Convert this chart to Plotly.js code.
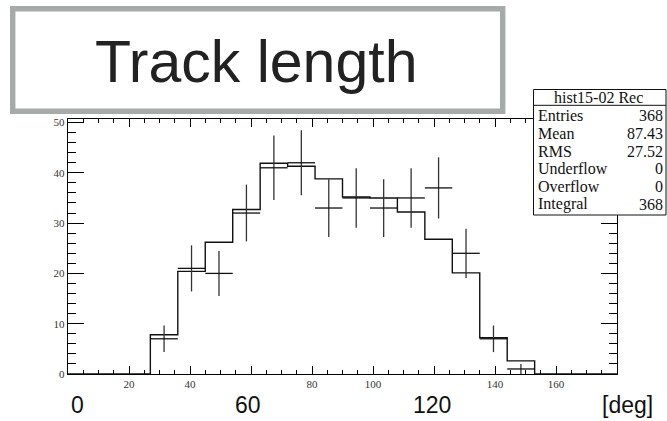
<!DOCTYPE html>
<html>
<head>
<meta charset="utf-8">
<script src="https://cdn.plot.ly/plotly-3.0.1.min.js"></script>
<style>
  html, body { margin: 0; padding: 0; background: #ffffff; }
  #plot { width: 667px; height: 421px; }
</style>
</head>
<body>
<div id="plot"></div>
<script>
// Histogram binning: 20 bins of 9 deg from 0 to 180
const binEdges = [0, 9, 18, 27, 36, 45, 54, 63, 72, 81, 90, 99, 108, 117, 126, 135, 144, 153, 162, 171, 180];

// Reconstructed counts (normalised, drawn as a step line)
const recCounts = [0, 0, 0, 7.8, 20.4, 26.2, 32.7, 41.9, 41.3, 38.8, 35.2, 35.0, 32.2, 26.8, 20.1, 7.2, 2.6, 0, 0, 0];

// Observed entries per bin (drawn as crosses with Poisson errors)
const dataCounts = [0, 0, 0, 7, 21, 20, 32, 41, 42, 33, 35, 33, 35, 37, 24, 7, 1, 0, 0, 0];

// Axis ticks
const xTickVals = [0, 20, 40, 60, 80, 100, 120, 140, 160, 180];
const xTickText = ["", "20", "40", "", "80", "100", "", "140", "160", ""];
const yTickVals = [0, 10, 20, 30, 40, 50];
const yTickText = ["0", "10", "20", "30", "40", "50"];

// Large axis captions underneath the frame
const axisCaptions = ["0", "60", "120", "[deg]"];

// Statistics box
const statsTitle = "hist15-02 Rec";
const statLabels = ["Entries", "Mean", "RMS", "Underflow", "Overflow", "Integral"];
const statValues = ["368", "87.43", "27.52", "0", "0", "368"];

const chartTitle = "Track length";

// ---- page geometry (pixels) ----
const W = 667, H = 421;
const M = { l: 68, r: 50, t: 119, b: 47 };
const plotW = W - M.l - M.r, plotH = H - M.t - M.b;
const px = x => (x - M.l) / plotW;          // pixel -> paper x
const py = y => (H - M.b - y) / plotH;      // pixel -> paper y

// step line: one point per lower edge plus the closing edge
const stepX = binEdges.slice();
const stepY = recCounts.concat([recCounts[recCounts.length - 1]]);

// crosses only for filled bins
const crossX = [], crossY = [], crossEy = [], crossEx = [];
dataCounts.forEach((c, i) => {
  if (c > 0) {
    crossX.push((binEdges[i] + binEdges[i + 1]) / 2);
    crossY.push(c);
    crossEy.push(Math.sqrt(c));
    crossEx.push((binEdges[i + 1] - binEdges[i]) / 2);
  }
});

const traces = [
  {
    type: "scatter", mode: "lines",
    x: stepX, y: stepY,
    line: { shape: "hv", color: "#111111", width: 1.4 },
    hoverinfo: "skip", showlegend: false
  },
  {
    type: "scatter", mode: "markers",
    x: crossX, y: crossY,
    marker: { size: 1, color: "rgba(0,0,0,0)" },
    error_y: { type: "data", array: crossEy, visible: true, width: 0, thickness: 1.3, color: "#333333" },
    error_x: { type: "data", array: crossEx, visible: true, width: 0, thickness: 1.3, color: "#111111" },
    hoverinfo: "skip", showlegend: false, cliponaxis: true
  }
];

const serif = "Liberation Serif, Times New Roman, serif";
const sans = "Liberation Sans, Arial, Helvetica, sans-serif";

const annotations = [];
// chart title inside the framed box
annotations.push({
  xref: "paper", yref: "paper", x: px(256), y: py(61.6),
  xanchor: "center", yanchor: "middle", showarrow: false,
  text: chartTitle, font: { family: sans, size: 59, color: "#222222" }
});
// big axis captions
const captionX = [77, 248, 432, 627];
axisCaptions.forEach((t, i) => {
  annotations.push({
    xref: "paper", yref: "paper", x: px(captionX[i]), y: py(404.5),
    xanchor: "center", yanchor: "middle", showarrow: false,
    text: t, font: { family: sans, size: 23, color: "#111111" }
  });
});
// statistics box text
annotations.push({
  xref: "paper", yref: "paper", x: px(598.5), y: py(97.3),
  xanchor: "center", yanchor: "middle", showarrow: false,
  text: statsTitle, font: { family: serif, size: 16, color: "#111111" }
});
statLabels.forEach((lab, i) => {
  const yc = 115.7 + 17.7 * i;
  annotations.push({
    xref: "paper", yref: "paper", x: px(535.5), y: py(yc),
    xanchor: "left", yanchor: "middle", showarrow: false,
    text: lab, font: { family: serif, size: 16, color: "#111111" }
  });
  annotations.push({
    xref: "paper", yref: "paper", x: px(665), y: py(yc),
    xanchor: "right", yanchor: "middle", showarrow: false,
    text: statValues[i], font: { family: serif, size: 16, color: "#111111" }
  });
});

const shapes = [
  // framed title box
  {
    type: "rect", xref: "paper", yref: "paper", layer: "above",
    x0: px(12.7), x1: px(502.7), y0: py(8.8), y1: py(111.2),
    line: { color: "#a6aaa8", width: 5.4 }, fillcolor: "rgba(0,0,0,0)"
  },
  // statistics box
  {
    type: "rect", xref: "paper", yref: "paper", layer: "above",
    x0: px(533.5), x1: px(666), y0: py(89.5), y1: py(215),
    line: { color: "#111111", width: 1 }, fillcolor: "#ffffff"
  },
  {
    type: "line", xref: "paper", yref: "paper", layer: "above",
    x0: px(533.5), x1: px(666), y0: py(105.3), y1: py(105.3),
    line: { color: "#111111", width: 1 }
  }
];

const layout = {
  width: W, height: H,
  margin: M,
  paper_bgcolor: "#ffffff", plot_bgcolor: "#ffffff",
  showlegend: false,
  xaxis: {
    range: [0, 180], showgrid: false, zeroline: false,
    showline: true, linecolor: "#000000", linewidth: 1.2, mirror: "ticks",
    ticks: "inside", ticklen: 8, tickwidth: 1, tickcolor: "#000000",
    tickmode: "array", tickvals: xTickVals, ticktext: xTickText,
    tickfont: { family: serif, size: 11, color: "#333333" },
    minor: { ticks: "inside", ticklen: 4, tickwidth: 1, tickcolor: "#000000", dtick: 5, showgrid: false },
    fixedrange: true
  },
  yaxis: {
    range: [0, 50.7], showgrid: false, zeroline: false,
    showline: true, linecolor: "#000000", linewidth: 1.2, mirror: "ticks",
    ticks: "inside", ticklen: 16, tickwidth: 1, tickcolor: "#000000",
    tickmode: "array", tickvals: yTickVals, ticktext: yTickText,
    tickfont: { family: serif, size: 11, color: "#333333" },
    minor: { ticks: "inside", ticklen: 8, tickwidth: 1, tickcolor: "#000000", dtick: 2, showgrid: false },
    fixedrange: true
  },
  annotations: annotations,
  shapes: shapes
};

Plotly.newPlot("plot", traces, layout, { displayModeBar: false, staticPlot: true });
</script>
</body>
</html>
